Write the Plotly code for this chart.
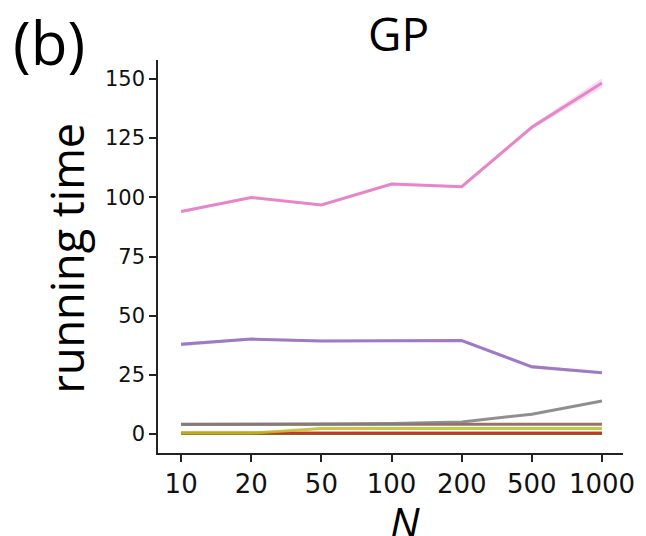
import plotly.graph_objects as go

N_labels = ["10", "20", "50", "100", "200", "500", "1000"]

series_names = ["blue", "orange", "green", "red", "purple", "brown", "pink", "gray", "olive"]
colors = {
    "blue": "31,119,180", "orange": "255,127,14", "green": "44,160,44",
    "red": "214,39,40", "purple": "148,103,189", "brown": "140,86,75",
    "pink": "227,119,194", "gray": "127,127,127", "olive": "188,189,34",
}
means = {
    "blue":   [0.2, 0.2, 0.2, 0.2, 0.2, 0.2, 0.2],
    "orange": [0.2, 0.2, 0.2, 0.2, 0.2, 0.2, 0.2],
    "green":  [0.2, 0.2, 0.2, 0.2, 0.2, 0.2, 0.2],
    "red":    [0.4, 0.4, 0.4, 0.4, 0.4, 0.4, 0.4],
    "purple": [37.9, 40.1, 39.3, 39.4, 39.5, 28.4, 25.9],
    "brown":  [4.1, 4.1, 4.1, 4.1, 4.1, 4.1, 4.1],
    "pink":   [94.0, 99.9, 96.8, 105.6, 104.5, 129.6, 148.3],
    "gray":   [4.0, 4.0, 4.2, 4.5, 5.1, 8.4, 14.0],
    "olive":  [0.4, 0.4, 2.4, 2.4, 2.4, 2.4, 2.4],
}
stds = {
    "blue":   [0.0] * 7,
    "orange": [0.0] * 7,
    "green":  [0.0] * 7,
    "red":    [0.1] * 7,
    "purple": [0.8, 0.6, 0.5, 0.5, 0.5, 0.8, 0.5],
    "brown":  [0.1] * 7,
    "pink":   [0.6, 0.5, 0.5, 0.6, 0.6, 0.9, 2.0],
    "gray":   [0.1, 0.1, 0.1, 0.1, 0.2, 0.3, 0.4],
    "olive":  [0.1] * 7,
}

fig = go.Figure()
for name in series_names:
    m = means[name]
    s = stds[name]
    up = [a + b for a, b in zip(m, s)]
    lo = [a - b for a, b in zip(m, s)]
    c = colors[name]
    fig.add_trace(go.Scatter(x=N_labels + N_labels[::-1], y=up + lo[::-1],
                             mode="lines", fill="toself", fillcolor=f"rgba({c},0.25)",
                             line=dict(width=0, color=f"rgba({c},0)"),
                             hoverinfo="skip", showlegend=False))
    fig.add_trace(go.Scatter(x=N_labels, y=m, mode="lines",
                             line=dict(color=f"rgba({c},0.85)", width=3),
                             showlegend=False))

tickfont_y = dict(family="DejaVu Sans", size=21, color="#111")
tickfont_x = dict(family="DejaVu Sans", size=26, color="#111")

fig.update_layout(
    width=646, height=536,
    margin=dict(l=158, r=23, t=60, b=83),
    plot_bgcolor="white", paper_bgcolor="white",
    xaxis=dict(type="category", range=[-0.33, 6.3], showgrid=False, zeroline=False,
               showline=True, linecolor="#222", linewidth=1.5,
               ticks="outside", ticklen=7, tickwidth=1.5, tickcolor="#222",
               tickfont=tickfont_x),
    yaxis=dict(range=[-8, 158], showgrid=False, zeroline=False,
               tickvals=[0, 25, 50, 75, 100, 125, 150],
               showline=True, linecolor="#222", linewidth=1.5,
               ticks="outside", ticklen=7, tickwidth=1.5, tickcolor="#222",
               tickfont=tickfont_y),
    annotations=[
        dict(text="(b)", x=(49 - 158) / 465, y=(536 - 42 - 83) / 393,
             xref="paper", yref="paper", showarrow=False,
             xanchor="center", yanchor="middle",
             font=dict(family="Open Sans", size=60, color="black")),
        dict(text="GP", x=0.5, y=1.0, xref="paper", yref="paper", showarrow=False,
             xanchor="center", yanchor="bottom", yshift=-6, xshift=8,
             font=dict(family="Open Sans", size=46, color="black")),
        dict(text="running time", x=0, y=0.5, xref="paper", yref="paper", showarrow=False,
             textangle=-90, xanchor="center", yanchor="middle", xshift=-92, yshift=-2,
             font=dict(family="Open Sans", size=45, color="black")),
        dict(text="<i>N</i>", x=0.5, y=0, xref="paper", yref="paper", showarrow=False,
             xanchor="center", yanchor="top", yshift=-38, xshift=14,
             font=dict(family="Open Sans", size=42, color="black")),
    ],
)

fig.write_html("out.html")
